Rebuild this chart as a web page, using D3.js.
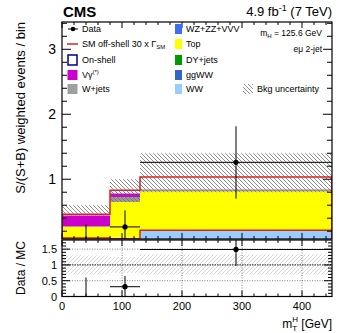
<!DOCTYPE html>
<html><head><meta charset="utf-8">
<script src="https://cdn.jsdelivr.net/npm/d3@7"></script>
<style>body{margin:0;background:#fff}svg{font-family:"Liberation Sans",Arial,sans-serif}</style>
</head><body><svg id="c" width="349" height="333"></svg>
<script>
// ---- data ----
const binEdges = [0, 80, 130, 450];
const ww    = [0.095, 0.100, 0.215];
const ggww  = [0.000, 0.000, 0.000];
const dy    = [0.000, 0.000, 0.000];
const top_  = [0.171, 0.550, 0.600];
const wz    = [0.000, 0.000, 0.005];
const wjets = [0.010, 0.075, 0.015];
const vg    = [0.165, 0.055, 0.005];
const sigStacked = [0.46, 0.83, 1.035];
const sigAlone   = [0.097, 0.085, 0.215];
const uncLo = [0.44, 0.65, 0.80];
const uncHi = [0.60, 1.00, 1.40];
const dataX = [40, 105, 290];
const dataY = [0.0, 0.266, 1.26];
const dataErrLo = [0.0, 0.266, 0.56];
const dataErrHi = [0.31, 0.254, 0.555];
const ratioY = [0.0, 0.31, 1.49];
const ratioErrLo = [0.0, 0.31, 0.52];
const ratioErrHi = [0.60, 0.34, 0.9];
const ratioUncLo = [0.70, 0.75, 0.70];
const ratioUncHi = [1.30, 1.25, 1.33];
const xTicks = [0, 100, 200, 300, 400];
const yTicks = [1, 2, 3];
const rTicks = [0, 0.5, 1, 1.5];
const rTickLabels = ["0", "0.5", "1", "1.5"];

const stackNames = ["WW","ggWW","DY+jets","Top","WZ+ZZ+VVV","W+jets","Vγ"];
const stackVals = [ww, ggww, dy, top_, wz, wjets, vg];
const stackColors = ["#99ccff","#3366cc","#009900","#ffff00","#3b6ef6","#999999","#cc00cc"];

// ---- layout ----
const svg = d3.select("#c");
const L = 62, R = 332, T = 22, B = 239, RT = 240, RB = 296.5;
const x = d3.scaleLinear().domain([0, 450]).range([L, R]);
const y = d3.scaleLinear().domain([0.08, 3.42]).range([B, T]);
const yr = d3.scaleLinear().domain([0, 1.79]).range([RB, RT]);

const defs = svg.append("defs");
const hp = defs.append("pattern").attr("id","hatch").attr("patternUnits","userSpaceOnUse")
  .attr("width",4).attr("height",4);
hp.append("path").attr("d","M-1,-1 L5,5 M-1,3 L1,5 M3,-1 L5,1").attr("stroke","#6a6a6a").attr("stroke-width",0.75);
const hp2 = defs.append("pattern").attr("id","hatch2").attr("patternUnits","userSpaceOnUse")
  .attr("width",4).attr("height",4);
hp2.append("path").attr("d","M-1,5 L5,-1 M-1,1 L1,-1 M3,5 L5,3").attr("stroke","#c4c4c4").attr("stroke-width",0.7);
defs.append("clipPath").attr("id","clipM").append("rect").attr("x",L).attr("y",T).attr("width",R-L).attr("height",B-T);
defs.append("clipPath").attr("id","clipR").append("rect").attr("x",L).attr("y",RT).attr("width",R-L).attr("height",RB-RT);

const gM = svg.append("g").attr("clip-path","url(#clipM)");
const nb = binEdges.length - 1;
for (let b = 0; b < nb; b++) {
  let cum = 0;
  stackVals.forEach((arr, k) => {
    const v = arr[b];
    if (v > 0) {
      gM.append("rect").attr("x", x(binEdges[b])).attr("width", x(binEdges[b+1]) - x(binEdges[b]))
        .attr("y", y(cum + v)).attr("height", Math.max(0, y(cum) - y(cum + v))).attr("fill", stackColors[k]);
    }
    cum += v;
  });
}
for (let b = 0; b < nb; b++) {
  gM.append("rect").attr("x", x(binEdges[b])).attr("width", x(binEdges[b+1]) - x(binEdges[b]))
    .attr("y", y(uncHi[b])).attr("height", y(uncLo[b]) - y(uncHi[b])).attr("fill","url(#hatch)");
}
function stepPath(vals, sc) {
  let p = "";
  for (let b = 0; b < nb; b++) {
    p += (b === 0 ? "M" : "L") + x(binEdges[b]) + "," + sc(vals[b]) + "L" + x(binEdges[b+1]) + "," + sc(vals[b]);
  }
  return p;
}
gM.append("path").attr("d", "M" + x(0) + "," + y(0) + stepPath(sigStacked, y).replace(/^M/,"L") + "L" + x(450) + "," + y(0))
  .attr("fill","none").attr("stroke","#dd2222").attr("stroke-width",1.5);
gM.append("path").attr("d", stepPath(sigAlone, y) + "L" + x(450) + "," + y(0))
  .attr("fill","none").attr("stroke","#dd2222").attr("stroke-width",1.5);
for (let b = 0; b < nb; b++) {
  const cx = x(dataX[b]), cy = y(dataY[b]);
  gM.append("line").attr("x1",cx).attr("x2",cx).attr("y1",y(dataY[b]-dataErrLo[b])).attr("y2",y(dataY[b]+dataErrHi[b])).attr("stroke","#000").attr("stroke-width",1);
  if (dataY[b] > 0) {
    gM.append("line").attr("x1",x(binEdges[b])).attr("x2",x(binEdges[b+1])).attr("y1",cy).attr("y2",cy).attr("stroke","#000").attr("stroke-width",1);
    gM.append("circle").attr("cx",cx).attr("cy",cy).attr("r",2.6).attr("fill","#000");
  }
}

// ratio panel
const gR = svg.append("g").attr("clip-path","url(#clipR)");
for (let b = 0; b < nb; b++) {
  gR.append("rect").attr("x", x(binEdges[b])).attr("width", x(binEdges[b+1]) - x(binEdges[b]))
    .attr("y", yr(ratioUncHi[b])).attr("height", yr(ratioUncLo[b]) - yr(ratioUncHi[b])).attr("fill","url(#hatch2)");
}
[0.5, 1.5].forEach(v => gR.append("line").attr("x1",L).attr("x2",R).attr("y1",yr(v)).attr("y2",yr(v)).attr("stroke","#666").attr("stroke-width",0.8).attr("stroke-dasharray","1,1.5"));
gR.append("line").attr("x1",L).attr("x2",R).attr("y1",yr(1)).attr("y2",yr(1)).attr("stroke","#444").attr("stroke-width",1.2).attr("stroke-dasharray","1.5,1");
[100,200,300,400].forEach(v => gR.append("line").attr("x1",x(v)).attr("x2",x(v)).attr("y1",RT).attr("y2",RB).attr("stroke","#666").attr("stroke-width",0.8).attr("stroke-dasharray","1,1.5"));
for (let b = 0; b < nb; b++) {
  const cx = x(dataX[b]), cy = yr(ratioY[b]);
  gR.append("line").attr("x1",cx).attr("x2",cx).attr("y1",yr(ratioY[b]-ratioErrLo[b])).attr("y2",yr(ratioY[b]+ratioErrHi[b])).attr("stroke","#000").attr("stroke-width",1);
  if (ratioY[b] > 0) {
    gR.append("line").attr("x1",x(binEdges[b])).attr("x2",x(binEdges[b+1])).attr("y1",cy).attr("y2",cy).attr("stroke","#000").attr("stroke-width",1);
    gR.append("circle").attr("cx",cx).attr("cy",cy).attr("r",2.6).attr("fill","#000");
  }
}

function frame(t, b) {
  svg.append("rect").attr("x",L).attr("y",t).attr("width",R-L).attr("height",b-t).attr("fill","none").attr("stroke","#000").attr("stroke-width",1.2);
}
frame(T, B); frame(RT, RB);
function tick(x1,y1,x2,y2){svg.append("line").attr("x1",x1).attr("y1",y1).attr("x2",x2).attr("y2",y2).attr("stroke","#000").attr("stroke-width",1);}
for (let v = 0; v <= 450; v += 20) {
  const major = v % 100 === 0;
  const len = major ? 6 : 3;
  const xx = x(v);
  tick(xx, T, xx, T+len); tick(xx, B, xx, B-len);
  tick(xx, RT, xx, RT+len); tick(xx, RB, xx, RB-len);
}
for (let i = 1; i <= 17; i++) {
  const v = i * 0.2; const major = Math.abs(v - Math.round(v)) < 1e-6;
  const len = major ? 9 : 5; const yy = y(v);
  if (yy < T || yy > B) continue;
  tick(L, yy, L+len, yy); tick(R, yy, R-len, yy);
}
for (let i = 0; i <= 17; i++) {
  const v = i * 0.1; const major = (i % 5 === 0);
  const len = major ? 8 : 4; const yy = yr(v);
  tick(L, yy, L+len, yy); tick(R, yy, R-len, yy);
}
svg.selectAll(".yl").data(yTicks).enter().append("text").attr("x", 56).attr("y", d => y(d) + 5)
  .attr("text-anchor","end").attr("font-size",14).text(d => d);
svg.selectAll(".rl").data(rTicks).enter().append("text").attr("x", 57).attr("y", d => yr(d) + 4)
  .attr("text-anchor","end").attr("font-size",11).text((d,i) => rTickLabels[i]);
svg.selectAll(".xl").data(xTicks).enter().append("text").attr("x", d => x(d)).attr("y", 310)
  .attr("text-anchor","middle").attr("font-size",11).text(d => d);

const xt = svg.append("text").attr("x", 332).attr("y", 328).attr("text-anchor","end").attr("font-size",12);
xt.append("tspan").text("m");
xt.append("tspan").attr("font-size",8).attr("dy",3).text("T");
xt.append("tspan").attr("font-size",8).attr("dx",-5).attr("dy",-9).text("H");
xt.append("tspan").attr("dy",6).text(" [GeV]");
svg.append("text").attr("transform","translate(25,22) rotate(-90)").attr("text-anchor","end").attr("font-size",13)
  .text("S/(S+B) weighted events / bin");
svg.append("text").attr("transform","translate(25,268) rotate(-90)").attr("text-anchor","middle").attr("font-size",12)
  .text("Data / MC");

svg.append("text").attr("x",63).attr("y",17).attr("font-size",15).attr("font-weight","bold").text("CMS");
const lum = svg.append("text").attr("x",332).attr("y",16).attr("text-anchor","end").attr("font-size",13);
lum.append("tspan").text("4.9 fb");
lum.append("tspan").attr("font-size",9).attr("dy",-5).text("-1");
lum.append("tspan").attr("dy",5).text(" (7 TeV)");

const mh = svg.append("text").attr("x",322).attr("y",36).attr("text-anchor","end").attr("font-size",8.5);
mh.append("tspan").text("m");
mh.append("tspan").attr("font-size",6).attr("dy",2).text("H");
mh.append("tspan").attr("dy",-2).text(" = 125.6 GeV");
svg.append("text").attr("x",322).attr("y",52).attr("text-anchor","end").attr("font-size",8.5).text("eμ 2-jet");

const lf = 9;
const rowsY = [29, 44, 60, 75, 89];
let g = svg.append("g");
g.append("line").attr("x1",68).attr("x2",78).attr("y1",rowsY[0]).attr("y2",rowsY[0]).attr("stroke","#000");
g.append("circle").attr("cx",73).attr("cy",rowsY[0]).attr("r",2.3).attr("fill","#000");
g.append("text").attr("x",82).attr("y",rowsY[0]+3).attr("font-size",lf).text("Data");
g.append("line").attr("x1",67).attr("x2",78).attr("y1",rowsY[1]).attr("y2",rowsY[1]).attr("stroke","#dd2222").attr("stroke-width",1.5);
const sm = g.append("text").attr("x",82).attr("y",rowsY[1]+3).attr("font-size",lf);
sm.append("tspan").text("SM off-shell 30 x Γ");
sm.append("tspan").attr("font-size",6).attr("dy",2).text("SM");
g.append("rect").attr("x",68).attr("y",rowsY[2]-5).attr("width",9).attr("height",10).attr("fill","none").attr("stroke","#000080").attr("stroke-width",1.5);
g.append("text").attr("x",82).attr("y",rowsY[2]+3).attr("font-size",lf).text("On-shell");
g.append("rect").attr("x",67.5).attr("y",rowsY[3]-5).attr("width",10).attr("height",10).attr("fill","#cc00cc");
const vgt = g.append("text").attr("x",82).attr("y",rowsY[3]+3).attr("font-size",lf);
vgt.append("tspan").text("Vγ");
vgt.append("tspan").attr("font-size",6).attr("dy",-4).text("(*)");
g.append("rect").attr("x",67.5).attr("y",rowsY[4]-5).attr("width",10).attr("height",10).attr("fill","#a0a0a0");
g.append("text").attr("x",82).attr("y",rowsY[4]+3).attr("font-size",lf).text("W+jets");
const rNames = ["WZ+ZZ+VVV","Top","DY+jets","ggWW","WW"];
const rCols = ["#3b6ef6","#ffff00","#009900","#3366cc","#99ccff"];
rNames.forEach((n,i) => {
  g.append("rect").attr("x",175).attr("y",rowsY[i]-5).attr("width",7).attr("height",10).attr("fill",rCols[i]);
  g.append("text").attr("x",186).attr("y",rowsY[i]+3).attr("font-size",lf).text(n);
});
g.append("rect").attr("x",243).attr("y",rowsY[4]-5).attr("width",10).attr("height",10).attr("fill","url(#hatch)");
g.append("text").attr("x",257).attr("y",rowsY[4]+3).attr("font-size",lf).text("Bkg uncertainty");
</script></body></html>
